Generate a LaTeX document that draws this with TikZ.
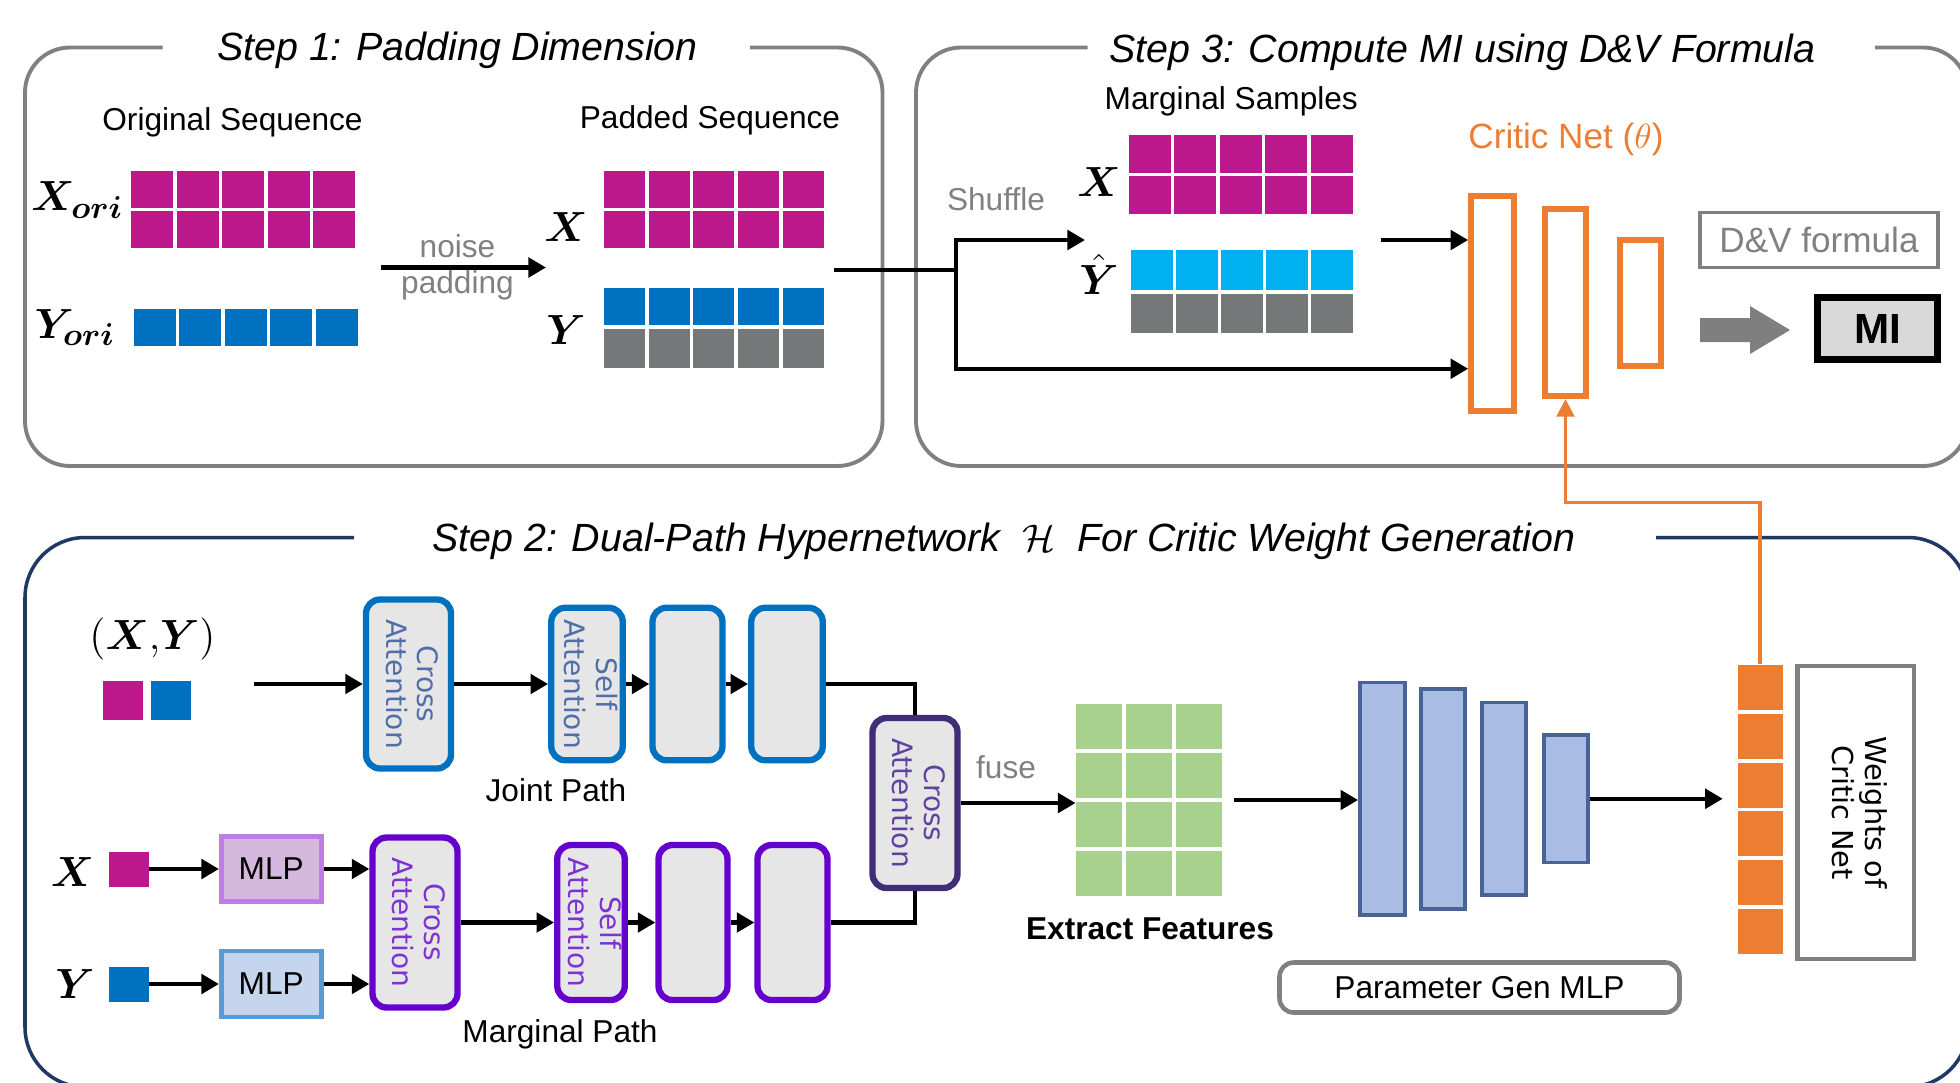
\documentclass[tikz,border=0pt]{standalone}
\usepackage{fontspec}
\setmainfont{Liberation Sans}
\newfontfamily\widefont{DejaVu Sans}
\usepackage{bm}
\usetikzlibrary{arrows.meta,positioning}

\definecolor{magcell}{RGB}{188,24,140}
\definecolor{bluecell}{RGB}{0,112,192}
\definecolor{graycell}{RGB}{116,120,120}
\definecolor{cyancell}{RGB}{0,176,240}
\definecolor{greencell}{RGB}{169,209,142}
\definecolor{orangec}{RGB}{237,125,49}
\definecolor{framegray}{RGB}{128,128,128}
\definecolor{navy}{RGB}{32,56,100}
\definecolor{blockfill}{RGB}{231,230,230}
\definecolor{jointblue}{RGB}{0,112,192}
\definecolor{jointtxt}{RGB}{80,110,170}
\definecolor{margviolet}{RGB}{102,0,204}
\definecolor{margtxt}{RGB}{125,50,210}
\definecolor{fusepurple}{RGB}{64,45,120}
\definecolor{fusetxt}{RGB}{95,65,160}
\definecolor{barfill}{RGB}{169,188,227}
\definecolor{barline}{RGB}{72,100,150}
\definecolor{mlpxfill}{RGB}{213,184,222}
\definecolor{mlpxline}{RGB}{190,125,230}
\definecolor{mlpyfill}{RGB}{197,213,238}
\definecolor{mlpyline}{RGB}{91,155,213}
\definecolor{txtgray}{RGB}{128,128,128}
\definecolor{arrgray}{RGB}{127,127,127}
\definecolor{mifill}{RGB}{217,217,217}

% two-line text turned to read downwards
\newcommand{\vlabel}[2]{\rotatebox{-90}{\begin{tabular}{@{}c@{}}#1\\#2\end{tabular}}}

\tikzset{
    stepframe/.style={draw=framegray, line width=1.1pt, rounded corners=0.45cm},
    steptitle/.style={font=\fontsize{11.2}{13}\selectfont\itshape, inner sep=0pt},
    lbl/.style={font=\fontsize{9}{11}\selectfont, inner sep=1pt},
    graylbl/.style={lbl, text=txtgray},
    mathlbl/.style={font=\fontsize{12.5}{15}\selectfont, inner sep=0pt},
    arr/.style={-{Triangle[length=5pt,width=5.5pt]}, line width=1.2pt},
    oarr/.style={-{Triangle[length=5pt,width=5pt]}, draw=orangec, line width=1pt},
    link/.style={line width=1.2pt},
    blk/.style={rounded corners=4pt, fill=blockfill, line width=1.8pt, inner sep=0pt,
        font=\widefont\fontsize{8}{9}\selectfont},
    jblk/.style={blk, draw=jointblue, text=jointtxt},
    mblk/.style={blk, draw=margviolet, text=margtxt},
    critic/.style={draw=orangec, line width=1.6pt, inner sep=0pt},
    bar/.style={draw=barline, fill=barfill, line width=1.1pt, inner sep=0pt},
    sq/.style={inner sep=0pt, minimum width=0.4cm, minimum height=0.35cm},
}

\begin{document}
\begin{tikzpicture}
    \useasboundingbox (0,0) rectangle (19.6,-10.82);
    \clip (0,0) rectangle (19.6,-10.82);

    % Frames and titles
    \draw[stepframe] (1.625,-0.475) -- (0.25,-0.475) -- (0.25,-4.66) -- (8.825,-4.66)
        -- (8.825,-0.475) -- (7.5,-0.475);
    \node[steptitle] (title1) at (4.575,-0.5) {Step 1: Padding Dimension};
    \draw[stepframe] (10.875,-0.475) -- (9.16,-0.475) -- (9.16,-4.66) -- (19.68,-4.66)
        -- (19.68,-0.475) -- (18.75,-0.475);
    \node[steptitle] (title3) at (14.625,-0.525) {Step 3: Compute MI using D\&V Formula};
    \draw[draw=navy, line width=1pt, rounded corners=0.6cm] (3.54,-5.375) -- (0.25,-5.375)
        -- (0.25,-10.87) -- (19.68,-10.87) -- (19.68,-5.375) -- (16.56,-5.375);
    \node[steptitle] (title2) at (10.04,-5.41)
        {Step 2: Dual-Path Hypernetwork \ $\mathcal{H}$ \ For Critic Weight Generation};

    % Step 1: original sequences
    \node[lbl] (origlbl) at (2.325,-1.225) {Original Sequence};
    \node[mathlbl] (xori) at (0.775,-2.0) {$\bm{X_{ori}}$};
    \node[mathlbl] (yori) at (0.75,-3.275) {$\bm{Y_{ori}}$};
    \foreach \i in {0,...,4} {
        \foreach \j in {0,1}
            \fill[magcell] (1.3125+0.455*\i,-1.7125-0.4*\j) rectangle ++(0.42,-0.37);
        \fill[bluecell] (1.3375+0.455*\i,-3.0875) rectangle ++(0.42,-0.375);
    }

    % noise padding
    \coordinate (padS) at (3.81,-2.675);
    \coordinate (padE) at (5.46,-2.675);
    \draw[arr] (padS) -- (padE);
    \node[graylbl] (noise) at (4.575,-2.46) {noise};
    \node[graylbl] (padding) at (4.575,-2.85) {padding};

    % Step 1: padded sequences
    \node[lbl] (padlbl) at (7.1,-1.2) {Padded Sequence};
    \node[mathlbl] (xpad) at (5.66,-2.275) {$\bm{X}$};
    \node[mathlbl] (ypad) at (5.66,-3.3) {$\bm{Y}$};
    \foreach \i in {0,...,4} {
        \foreach \j in {0,1}
            \fill[magcell] (6.0375+0.4475*\i,-1.7125-0.4*\j) rectangle ++(0.41,-0.37);
        \fill[bluecell] (6.0375+0.4475*\i,-2.875) rectangle ++(0.41,-0.375);
        \fill[graycell] (6.0375+0.4475*\i,-3.29) rectangle ++(0.41,-0.385);
    }

    % Step 3: marginal samples
    \node[lbl] (marglbl) at (12.3125,-1.0125) {Marginal Samples};
    \node[mathlbl] (xmarg) at (10.99,-1.825) {$\bm{X}$};
    \node[mathlbl] (yhat) at (10.99,-2.74) {$\bm{\hat{Y}}$};
    \foreach \i in {0,...,4} {
        \foreach \j in {0,1}
            \fill[magcell] (11.2875+0.455*\i,-1.35-0.41*\j) rectangle ++(0.42,-0.38);
        \fill[cyancell] (11.3125+0.45*\i,-2.5) rectangle ++(0.415,-0.4);
        \fill[graycell] (11.3125+0.45*\i,-2.94) rectangle ++(0.415,-0.385);
    }
    \node[graylbl] (shuffle) at (9.96,-1.99) {Shuffle};

    % Critic net
    \node[lbl, text=orangec, font=\fontsize{10}{12}\selectfont] (critlbl) at (15.66,-1.39)
        {Critic Net ($\theta$)};
    \node[critic, minimum width=0.43cm, minimum height=2.15cm] (r1) at (14.925,-3.0375) {};
    \node[critic, minimum width=0.41cm, minimum height=1.875cm] (r2) at (15.655,-3.025) {};
    \node[critic, minimum width=0.41cm, minimum height=1.26cm] (r3) at (16.405,-3.03) {};

    % split to critic net
    \coordinate (padout) at (8.34,-2.7);
    \coordinate (split) at (9.5625,-2.7);
    \coordinate (shufE) at (10.85,-2.4);
    \coordinate (jnt) at (9.5625,-3.6875);
    \coordinate (msE) at (13.8125,-2.4);
    \draw[link] (padout) -- (split);
    \draw[arr] (split) |- (shufE);
    \draw[arr] (split) -- (jnt) -- (jnt -| r1.west);
    \draw[arr] (msE) -- (msE -| r1.west);

    % D&V formula and MI
    \node[draw=framegray, line width=1.1pt, text=txtgray, inner sep=0pt,
        font=\fontsize{10}{12}\selectfont, minimum width=2.375cm, minimum height=0.55cm]
        (dv) at (18.19,-2.4) {D\&V formula};
    \fill[arrgray] (17.0,-3.18) -- (17.5,-3.18) -- (17.5,-3.06) -- (17.9,-3.3)
        -- (17.5,-3.54) -- (17.5,-3.42) -- (17.0,-3.42) -- cycle;
    \node[draw=black, line width=2pt, fill=mifill, minimum width=1.2cm, minimum height=0.62cm,
        font=\bfseries\fontsize{12}{14}\selectfont] (mi) at (18.775,-3.285) {MI};

    % Step 2: joint path
    \node[mathlbl, font=\fontsize{12}{15}\selectfont] (xy) at (1.525,-6.39) {$(\bm{X}{,}\bm{Y})$};
    \node[sq, fill=magcell, minimum height=0.39cm] (xysq1) at (1.225,-7.006) {};
    \node[sq, fill=bluecell, minimum height=0.39cm] (xysq2) at (1.7125,-7.006) {};
    \coordinate (jin) at (2.54,-6.84);
    \node[jblk, minimum width=0.85cm, minimum height=1.69cm] (jca) at (4.085,-6.84)
        {\vlabel{Cross}{Attention}};
    \node[jblk, minimum width=0.715cm, minimum height=1.525cm] (jsa) at (5.87,-6.84)
        {\vlabel{Self}{Attention}};
    \node[jblk, minimum width=0.7cm, minimum height=1.525cm] (j2) at (6.875,-6.84) {};
    \node[jblk, minimum width=0.715cm, minimum height=1.525cm] (j3) at (7.87,-6.84) {};
    \node[lbl] (jplbl) at (5.56,-7.9) {Joint Path};
    \draw[arr] (jin) -- (jca);
    \draw[arr] (jca) -- (jsa);
    \draw[arr] (jsa) -- (j2);
    \draw[arr] (j2) -- (j3);

    % Step 2: marginal path
    \node[mathlbl] (xmg) at (0.725,-8.725) {$\bm{X}$};
    \node[sq, fill=magcell] (xsq) at (1.2875,-8.69) {};
    \node[mathlbl] (ymg) at (0.75,-9.84) {$\bm{Y}$};
    \node[sq, fill=bluecell] (ysq) at (1.2875,-9.84) {};
    \node[lbl, draw=mlpxline, fill=mlpxfill, line width=1.3pt, minimum width=1.0cm,
        minimum height=0.65cm] (mlpx) at (2.7125,-8.69) {MLP};
    \node[lbl, draw=mlpyline, fill=mlpyfill, line width=1.3pt, minimum width=1.0cm,
        minimum height=0.66cm] (mlpy) at (2.7125,-9.84) {MLP};
    \draw[arr] (xsq) -- (mlpx);
    \draw[arr] (ysq) -- (mlpy);
    \node[mblk, minimum width=0.85cm, minimum height=1.7cm] (mca) at (4.15,-9.225)
        {\vlabel{Cross}{Attention}};
    \draw[arr] (mlpx.east) -- (mlpx.east -| mca.west);
    \draw[arr] (mlpy.east) -- (mlpy.east -| mca.west);
    \node[mblk, minimum width=0.675cm, minimum height=1.55cm] (msa) at (5.91,-9.225)
        {\vlabel{Self}{Attention}};
    \node[mblk, minimum width=0.69cm, minimum height=1.55cm] (m2) at (6.93,-9.225) {};
    \node[mblk, minimum width=0.7cm, minimum height=1.55cm] (m3) at (7.925,-9.225) {};
    \node[lbl] (mplbl) at (5.6,-10.34) {Marginal Path};
    \draw[arr] (mca) -- (msa);
    \draw[arr] (msa) -- (m2);
    \draw[arr] (m2) -- (m3);

    % fuse
    \node[blk, draw=fusepurple, text=fusetxt, minimum width=0.85cm, minimum height=1.7cm]
        (fca) at (9.15,-8.03) {\vlabel{Cross}{Attention}};
    \draw[link] (j3) -| (fca);
    \draw[link] (m3) -| (fca);
    \node[graylbl] (fuselbl) at (10.06,-7.675) {fuse};

    % extracted features
    \node[minimum width=1.46cm, minimum height=1.925cm, inner sep=0pt] (feat) at (11.4925,-8.0) {};
    \foreach \i in {0,1,2}
        \foreach \j in {0,...,3}
            \fill[greencell] (10.7625+0.5*\i,-7.0375-0.49*\j) rectangle ++(0.46,-0.455);
    \node[lbl, font=\bfseries\fontsize{9}{11}\selectfont] (featlbl) at (11.5,-9.29) {Extract Features};
    \draw[arr] (fca.east) -- (fca.east -| feat.west);

    % parameter generation MLP
    \node[bar, minimum width=0.45cm, minimum height=2.325cm] (b1) at (13.825,-7.9875) {};
    \node[bar, minimum width=0.44cm, minimum height=2.2cm] (b2) at (14.43,-7.99) {};
    \node[bar, minimum width=0.435cm, minimum height=1.925cm] (b3) at (15.04,-7.9875) {};
    \node[bar, minimum width=0.435cm, minimum height=1.275cm] (b4) at (15.66,-7.9875) {};
    \draw[arr, shorten <=3pt] (feat.east) -- (feat.east -| b1.west);
    \node[lbl, draw=framegray, line width=1.3pt, rounded corners=4pt, minimum width=4.0cm,
        minimum height=0.5cm] (pgm) at (14.795,-9.875) {Parameter Gen MLP};

    % weights of critic net
    \node[minimum width=0.45cm, minimum height=2.89cm, inner sep=0pt] (wcol) at (17.6,-8.09) {};
    \foreach \j in {0,...,5}
        \fill[orangec] (17.375,-6.65-0.4875*\j) rectangle ++(0.45,-0.45);
    \node[draw=framegray, line width=1.3pt, inner sep=0pt, minimum width=1.165cm,
        minimum height=2.93cm, font=\widefont\fontsize{8.2}{9.4}\selectfont]
        (wbox) at (18.5575,-8.125) {\vlabel{Weights of}{Critic Net}};
    \draw[arr, shorten >=4pt] (b4.east) -- (b4.east -| wcol.west);

    % weights go to critic net
    \coordinate (obend) at (0,-5.025);
    \draw[oarr] (wcol.north) |- (r2.south |- obend) -- (r2.south);
\end{tikzpicture}
\end{document}
